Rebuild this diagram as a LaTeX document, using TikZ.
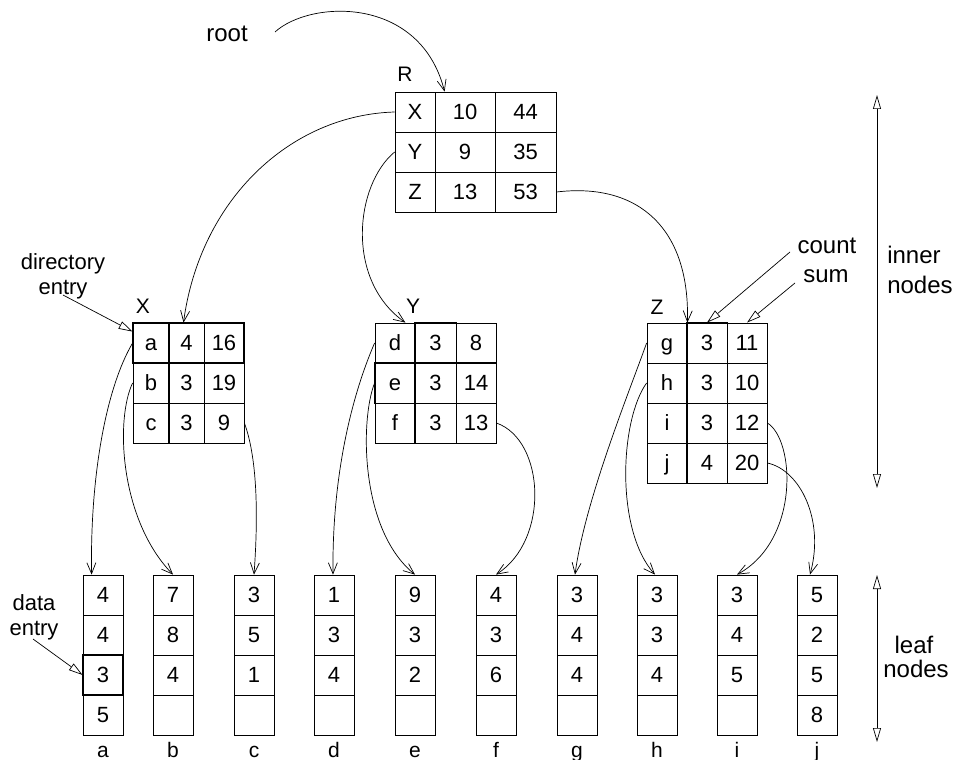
\documentclass[tikz,border=0pt]{standalone}
\usepackage{fontspec}
\setmainfont{Liberation Sans}
\usetikzlibrary{arrows.meta,calc}
\newcommand\tabfont{\fontsize{22}{26}\selectfont}
\newcommand\labfont{\fontsize{24}{28}\selectfont}
\newcommand\twofont{\fontsize{22}{25}\selectfont\lineskiplimit=-30pt\relax}
\newcommand\namefont{\fontsize{21}{25}\selectfont}
\begin{document}
\begin{tikzpicture}[x=1pt,y=-1pt,
  cell/.style={draw, line width=0.8pt, inner sep=0pt, minimum height=40pt, font=\tabfont,
    text height=15.8pt, text depth=0pt},
  lab/.style={font=\labfont, inner sep=0pt, anchor=base},
  two/.style={font=\twofont, inner sep=0pt, align=center},
  nm/.style={font=\namefont, inner sep=0pt, anchor=base},
  tree/.style={-{Straight Barb[length=11pt,width=9pt]}, line width=0.7pt},
  ann/.style={-{Triangle[open,length=14pt,width=8pt,fill=white]}, line width=0.7pt},
  span/.style={{Triangle[open,length=14pt,width=8pt,fill=white]}-{Triangle[open,length=14pt,width=8pt,fill=white]}, line width=0.7pt},
  hl/.style={line width=2pt},
  hm/.style={line width=1.4pt}]
\useasboundingbox (0,0) rectangle (954,760);

% ---- root node R
\node[nm] (Rlbl) at (405,82) {R};
\node[cell,minimum width=40pt] (RX1) at (415,112) {X};
\node[cell,minimum width=60pt] (RX2) at (465,112) {10};
\node[cell,minimum width=61pt] (RX3) at (525.5,112) {44};
\node[cell,minimum width=40pt] (RY1) at (415,152) {Y};
\node[cell,minimum width=60pt] (RY2) at (465,152) {9};
\node[cell,minimum width=61pt] (RY3) at (525.5,152) {35};
\node[cell,minimum width=40pt] (RZ1) at (415,192) {Z};
\node[cell,minimum width=60pt] (RZ2) at (465,192) {13};
\node[cell,minimum width=61pt] (RZ3) at (525.5,192) {53};

% ---- inner node X
\node[nm] (Xlbl) at (143,313) {X};
\node[cell,minimum width=36pt] (Xa1) at (151,343) {a};
\node[cell,minimum width=35pt] (Xa2) at (186.5,343) {4};
\node[cell,minimum width=40pt] (Xa3) at (224,343) {16};
\node[cell,minimum width=36pt] (Xb1) at (151,383) {b};
\node[cell,minimum width=35pt] (Xb2) at (186.5,383) {3};
\node[cell,minimum width=40pt] (Xb3) at (224,383) {19};
\node[cell,minimum width=36pt] (Xc1) at (151,423) {c};
\node[cell,minimum width=35pt] (Xc2) at (186.5,423) {3};
\node[cell,minimum width=40pt] (Xc3) at (224,423) {9};
\draw[hm] (Xa2.north west) rectangle (Xc2.south east);
\draw[hl] (Xa1.north west) rectangle (Xa3.south east);

% ---- inner node Y
\node[nm] (Ylbl) at (413,313) {Y};
\node[cell,minimum width=40pt] (Yd1) at (395,343) {d};
\node[cell,minimum width=41pt] (Yd2) at (435.5,343) {3};
\node[cell,minimum width=40pt] (Yd3) at (476,343) {8};
\node[cell,minimum width=40pt] (Ye1) at (395,383) {e};
\node[cell,minimum width=41pt] (Ye2) at (435.5,383) {3};
\node[cell,minimum width=40pt] (Ye3) at (476,383) {14};
\node[cell,minimum width=40pt] (Yf1) at (395,423) {f};
\node[cell,minimum width=41pt] (Yf2) at (435.5,423) {3};
\node[cell,minimum width=40pt] (Yf3) at (476,423) {13};
\draw[hm] (Yd2.north west) rectangle (Yf2.south east);
\draw[hm] (Ye1.north west) rectangle (Ye3.south east);

% ---- inner node Z
\node[nm] (Zlbl) at (657,314) {Z};
\node[cell,minimum width=40pt] (Zg1) at (667,343) {g};
\node[cell,minimum width=40pt] (Zg2) at (707,343) {3};
\node[cell,minimum width=40pt] (Zg3) at (747,343) {11};
\node[cell,minimum width=40pt] (Zh1) at (667,383) {h};
\node[cell,minimum width=40pt] (Zh2) at (707,383) {3};
\node[cell,minimum width=40pt] (Zh3) at (747,383) {10};
\node[cell,minimum width=40pt] (Zi1) at (667,423) {i};
\node[cell,minimum width=40pt] (Zi2) at (707,423) {3};
\node[cell,minimum width=40pt] (Zi3) at (747,423) {12};
\node[cell,minimum width=40pt] (Zj1) at (667,463) {j};
\node[cell,minimum width=40pt] (Zj2) at (707,463) {4};
\node[cell,minimum width=40pt] (Zj3) at (747,463) {20};
\draw[hm] (Zg2.north west) rectangle (Zj2.south east);

% ---- leaf nodes
\foreach \n/\x/\A/\B/\C/\D in {a/103/4/4/3/5, b/173/7/8/4/{}, c/254/3/5/1/{}, d/334/1/3/4/{},
  e/415/9/3/2/{}, f/496/4/3/6/{}, g/577/3/4/4/{}, h/657/3/3/4/{}, i/737/3/4/5/{}, j/817/5/2/5/8} {
  \node[cell,minimum width=40pt] (leaf\n1) at (\x,595) {\A};
  \node[cell,minimum width=40pt] (leaf\n2) at (\x,635) {\B};
  \node[cell,minimum width=40pt] (leaf\n3) at (\x,675) {\C};
  \node[cell,minimum width=40pt] (leaf\n4) at (\x,715) {\D};
  \node[nm] (leaf\n lbl) at (\x,757) {\n};
}
\draw[hl] (leafa3.north west) rectangle (leafa3.south east);

% ---- labels
\node[lab] (rootlbl) at (227,42) {root};
\node[two] (dirlbl) at (63,276) {directory\\entry};
\node[two] (datlbl) at (34,617) {data\\entry};
\node[lab] (cntlbl) at (827,253) {count};
\node[lab] (sumlbl) at (826,282) {sum};
\node[lab] (innlbl1) at (914,263) {inner};
\node[lab] (innlbl2) at (920,293) {nodes};
\node[lab] (leaflbl1) at (914,653) {leaf};
\node[lab] (leaflbl2) at (916,677) {nodes};

% ---- free ends
\coordinate (rs) at (275,32);
\coordinate (ds) at (63,295);
\coordinate (es) at (33,639);
\coordinate (cs) at (790,252);
\coordinate (ss) at (795,283);
\coordinate (it) at (877,95);
\coordinate (ib) at (877,488);
\coordinate (lt) at (877,575);
\coordinate (lb) at (877,742);

% ---- tree connectors
\draw[tree] (rs) .. controls (310,0) and (420,-5) .. ($(RX2.north west)+(10,0)$);
\draw[tree] (RX1.west) .. controls (290,115) and (200,200) .. ($(Xa2.north)+(-3,0)$);
\draw[tree] (RY1.west) .. controls (355,185) and (345,280) .. ($(Yd1.north east)+(-10,0)$);
\draw[tree] (RZ3.east) .. controls (640,182) and (690,230) .. (Zg1.north east);

\draw[tree] (Xa1.west) .. controls (105,390) and (90,480) .. ($(leafa1.north west)+(9,0)$);
\draw[tree] (Xb1.west) .. controls (115,420) and (120,520) .. (leafb1.north);
\draw[tree] (Xc3.east) .. controls (258,460) and (258,520) .. (leafc1.north);

\draw[tree] (Yd1.west) .. controls (350,400) and (332,480) .. ($(leafd1.north)+(-1,0)$);
\draw[tree] (Ye1.west) .. controls (360,420) and (360,530) .. (leafe1.north);
\draw[tree] (Yf3.east) .. controls (545,440) and (550,540) .. (leaff1.north);

\draw[tree] (Zg1.west) .. controls (630,390) and (585,500) .. ($(leafg1.north)+(-2,0)$);
\draw[tree] (Zh1.west) .. controls (620,420) and (615,530) .. ($(leafh1.north)+(-2,0)$);
\draw[tree] (Zi3.east) .. controls (795,440) and (800,540) .. (leafi1.north);
\draw[tree] (Zj3.east) .. controls (800,470) and (825,520) .. ($(leafj1.north)+(-7,0)$);

% ---- annotation arrows
\draw[ann] (ds) -- ($(Xa1.north west)+(0,9)$);
\draw[ann] (es) -- (leafa3.west);
\draw[ann] (cs) -- (Zg2.north);
\draw[ann] (ss) -- (Zg3.north);
\draw[span] (it) -- (ib);
\draw[span] (lt) -- (lb);
\end{tikzpicture}
\end{document}
